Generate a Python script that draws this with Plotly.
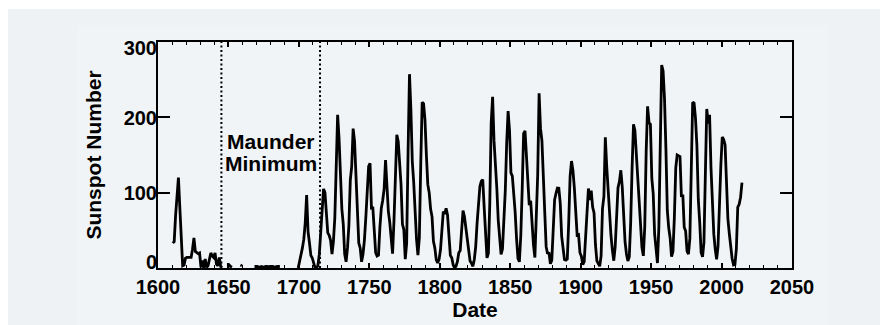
import numpy as np
import plotly.graph_objects as go

# ---- data (yearly sunspot number, plotted at mid-year) ----
years = np.arange(1610, 2015) + 0.5
N = None
ssn = [
    # 1610-1699 (group sunspot estimates, gaps = no data)
    33, 35, 70, 100, 120, 80, 30, 3, 4, 13,
    14, 14, 14, 14, 25, 40, 22, 21, 19, 20,
    1, 10, 0, 12, 1, 3, 10, 20, 16, 14,
    20, 5, 3, 14, 2, 1, N, N, N, 2,
    4, 2, 1, N, N, N, N, N, 4, 3,
    N, N, N, N, N, N, N, N, 2, 2,
    2, 1, 2, 2, 1, 2, 2, 2, 1, 2,
    2, 2, 1, 2, 2, 2, 2, N, N, N,
    N, N, N, N, N, N, N, N, N, 0,
    # 1700-2014
    8.3, 18.3, 26.7, 38.3, 60.0, 96.7, 48.3, 33.3, 16.7, 13.3,
    5.0, 0.0, 0.0, 3.3, 18.3, 45.0, 78.3, 105.0, 100.0, 65.0,
    46.7, 43.3, 36.7, 18.3, 35.0, 66.7, 130.0, 203.3, 171.7, 121.7,
    78.3, 58.3, 18.3, 8.3, 26.7, 56.7, 116.7, 135.0, 185.0, 168.3,
    121.7, 66.7, 33.3, 26.7, 8.3, 18.3, 36.7, 66.7, 100.0, 134.8,
    139.0, 79.5, 79.7, 51.2, 20.3, 16.0, 17.0, 54.0, 79.3, 90.0,
    104.8, 143.2, 102.0, 75.2, 60.7, 34.8, 19.0, 63.0, 116.3, 176.8,
    168.0, 136.0, 110.8, 58.0, 51.0, 11.7, 33.0, 154.2, 257.3, 209.8,
    141.3, 113.5, 64.2, 38.0, 17.0, 40.2, 138.2, 220.0, 218.2, 196.8,
    149.8, 111.0, 100.0, 78.2, 68.3, 35.5, 26.7, 10.7, 6.8, 11.3,
    24.2, 56.7, 75.0, 71.8, 79.2, 70.3, 46.8, 16.8, 13.5, 4.2,
    0.0, 2.3, 8.3, 20.3, 23.2, 59.0, 76.3, 68.3, 52.9, 38.5,
    24.2, 9.2, 6.3, 2.2, 11.4, 28.2, 59.9, 83.0, 108.5, 115.2,
    117.4, 80.8, 44.3, 13.4, 19.5, 85.8, 192.7, 227.3, 168.7, 143.0,
    105.5, 63.3, 40.3, 18.1, 25.1, 65.8, 102.7, 166.3, 208.3, 182.5,
    126.3, 122.0, 102.7, 74.1, 39.0, 12.7, 8.2, 43.4, 104.4, 178.3,
    182.2, 146.6, 112.1, 83.5, 89.2, 57.8, 30.7, 13.9, 62.8, 123.6,
    232.0, 185.3, 169.2, 110.1, 74.5, 28.3, 18.9, 20.7, 5.7, 10.0,
    53.7, 90.5, 99.0, 106.1, 105.8, 86.3, 42.4, 21.8, 11.2, 10.4,
    11.8, 59.5, 121.7, 142.0, 130.0, 106.6, 69.4, 43.8, 44.4, 20.2,
    15.7, 4.6, 8.5, 40.8, 70.1, 105.5, 90.1, 102.8, 80.9, 73.2,
    30.9, 9.5, 6.0, 2.4, 16.1, 79.0, 95.0, 173.6, 134.6, 105.7,
    62.7, 43.5, 23.7, 9.7, 27.9, 74.0, 106.5, 114.7, 129.7, 108.2,
    59.4, 35.1, 18.6, 9.2, 14.6, 60.2, 132.8, 190.6, 182.6, 148.0,
    113.0, 79.2, 50.8, 27.1, 16.1, 55.3, 154.3, 214.7, 193.0, 190.7,
    118.9, 98.3, 45.0, 20.1, 6.6, 54.2, 200.7, 269.3, 261.7, 225.1,
    159.0, 76.4, 53.4, 39.9, 15.0, 22.0, 66.8, 132.9, 150.0, 149.4,
    148.0, 94.4, 97.6, 54.1, 49.2, 22.5, 18.4, 39.3, 131.0, 220.1,
    218.9, 198.9, 162.4, 91.0, 60.5, 20.6, 14.8, 33.9, 123.0, 211.1,
    191.8, 203.3, 133.0, 76.1, 44.9, 25.1, 11.6, 28.9, 88.3, 136.3,
    173.9, 170.4, 163.6, 99.3, 65.3, 45.8, 24.7, 12.6, 4.2, 4.8,
    24.9, 80.8, 84.5, 94.0, 113.3,
]

maunder_bounds = [1645, 1715]
x_ticks = [1600, 1650, 1700, 1750, 1800, 1850, 1900, 1950, 2000, 2050]
y_ticks = [0, 100, 200, 300]
y_tick_text = ["0", "100", "200", "300"]
y_label_pos = [8, 99.4, 199.7, 292.6]   # where the reference prints each label

# page body adds an 8px offset, so the figure is 8px smaller than the window
OFF = 8
W, H = 888 - OFF, 325 - OFF
ML, MR, MT, MB = 150, 96, 34, 57
PW, PH = W - ML - MR, H - MT - MB


def px_x(px):
    return (px - OFF - ML) / PW


def px_y(py):
    return (H - MB - (py - OFF)) / PH


FONT = "Liberation Sans"
BOLD = dict(family=FONT, weight="bold", color="black")

fig = go.Figure()
fig.add_trace(go.Scatter(
    x=years, y=ssn, mode="lines", connectgaps=False,
    line=dict(color="black", width=2.8), showlegend=False, hoverinfo="x+y",
))
# empty helper trace so the label axis is drawn
fig.add_trace(go.Scatter(x=[None], y=[None], yaxis="y2", showlegend=False,
                         hoverinfo="skip"))

shapes = [
    dict(type="rect", xref="paper", yref="paper", layer="below",
         x0=px_x(0), x1=px_x(900), y0=px_y(340), y1=px_y(9),
         fillcolor="#eef2f4", line=dict(width=0)),
    dict(type="rect", xref="paper", yref="paper", layer="below",
         x0=px_x(77), x1=px_x(828), y0=px_y(340), y1=px_y(25),
         fillcolor="#f1f4f6", line=dict(width=0)),
]
for b in maunder_bounds:
    shapes.append(dict(type="line", xref="x", yref="paper", x0=b, x1=b,
                       y0=0, y1=1, line=dict(color="black", width=2, dash="2px,2.5px")))

fig.update_layout(
    width=W, height=H,
    margin=dict(l=ML, r=MR, t=MT, b=MB, pad=0, autoexpand=False),
    paper_bgcolor="white", plot_bgcolor="rgba(0,0,0,0)",
    shapes=shapes,
    font=dict(family=FONT, color="black"),
    annotations=[
        dict(text="Maunder", x=1680.5, y=168, xref="x", yref="y", showarrow=False,
             xanchor="center", yanchor="middle", font=dict(size=21, **BOLD)),
        dict(text="Minimum", x=1680.5, y=138.5, xref="x", yref="y", showarrow=False,
             xanchor="center", yanchor="middle", font=dict(size=21, **BOLD)),
    ],
    yaxis2=dict(
        overlaying="y", side="left", range=[0, 300],
        tickvals=y_label_pos, ticktext=y_tick_text, ticks="",
        showline=False, showgrid=False, zeroline=False,
        tickfont=dict(size=20, **BOLD),
        title=dict(text="Sunspot Number", standoff=16, font=dict(size=21, **BOLD)),
    ),
)

fig.update_xaxes(
    range=[1600, 2050], tickvals=x_ticks,
    showline=True, linecolor="black", linewidth=1.6, mirror="ticks",
    ticks="inside", ticklen=5, tickwidth=1.6, tickcolor="black",
    minor=dict(dtick=10, tick0=1600, ticks="inside", ticklen=3, tickwidth=1.3, tickcolor="black"),
    showgrid=False, zeroline=False,
    tickfont=dict(size=20, **BOLD),
    title=dict(text="Date", standoff=2, font=dict(size=21, **BOLD)),
)
fig.update_yaxes(
    selector=dict(anchor="x"),
    range=[0, 300], tickvals=y_ticks, showticklabels=False,
    showline=True, linecolor="black", linewidth=1.6, mirror="ticks",
    ticks="inside", ticklen=12, tickwidth=2, tickcolor="black",
    showgrid=False, zeroline=False,
)
fig.layout.yaxis.update(range=[0, 300], tickvals=y_ticks, showticklabels=False,
                        showline=True, linecolor="black", linewidth=1.6, mirror="ticks",
                        ticks="inside", ticklen=12, tickwidth=2, tickcolor="black",
                        showgrid=False, zeroline=False)

fig.write_html("out.html")
